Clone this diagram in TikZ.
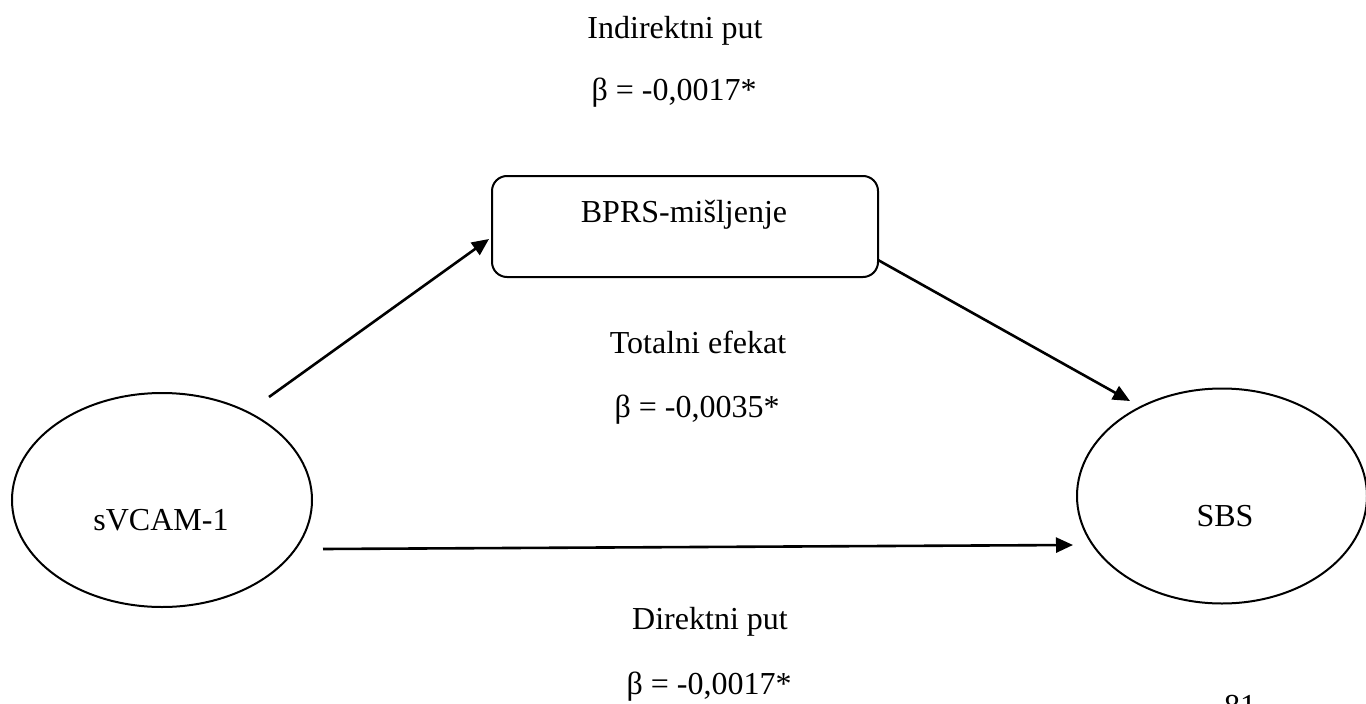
\documentclass[tikz,border=0pt]{standalone}
\usepackage{fontspec}
\setmainfont{Liberation Serif}
\usetikzlibrary{arrows.meta,shapes.geometric}
\begin{document}
\begin{tikzpicture}[x=1pt,y=-1pt,
  lbl/.style={font=\fontsize{32}{38}\selectfont, inner sep=0pt, anchor=base},
  shapeline/.style={draw=black, line width=2pt, inner sep=0pt},
  conn/.style={line width=2.6pt, -{Triangle[length=17pt,width=15pt]}},
]
\useasboundingbox (0,0) rectangle (1366,704);
% shapes
\node[shapeline, rectangle, rounded corners=15pt, minimum width=386pt, minimum height=101pt] (box) at (685,226.5) {};
\node[shapeline, ellipse, minimum width=300pt, minimum height=214pt] (left) at (162,500) {};
\node[shapeline, ellipse, minimum width=290pt, minimum height=215pt] (right) at (1222,496) {};
% texts
\node[lbl] (t1) at (675,38) {Indirektni put};
\node[lbl] (t2) at (674,100) {β = -0,0017*};
\node[lbl] (tbox) at (684,222) {BPRS-mišljenje};
\node[lbl] (t3) at (698,353) {Totalni efekat};
\node[lbl] (t4) at (697,417) {β = -0,0035*};
\node[lbl] (tleft) at (161,530) {sVCAM-1};
\node[lbl] (tright) at (1225,526) {SBS};
\node[lbl] (t5) at (710,629) {Direktni put};
\node[lbl] (t6) at (709,694) {β = -0,0017*};
\node[lbl] (page) at (1240,716) {81};
% connector ends
\coordinate (a1s) at (269,397);
\coordinate (a1e) at (489,239);
\coordinate (a2s) at (878,260);
\coordinate (a2e) at (1130,401);
\coordinate (a3s) at (323,549);
\coordinate (a3e) at (1073,545);
\draw[conn] (a1s) -- (a1e);
\draw[conn] (a2s) -- (a2e);
\draw[conn] (a3s) -- (a3e);
\end{tikzpicture}
\end{document}
